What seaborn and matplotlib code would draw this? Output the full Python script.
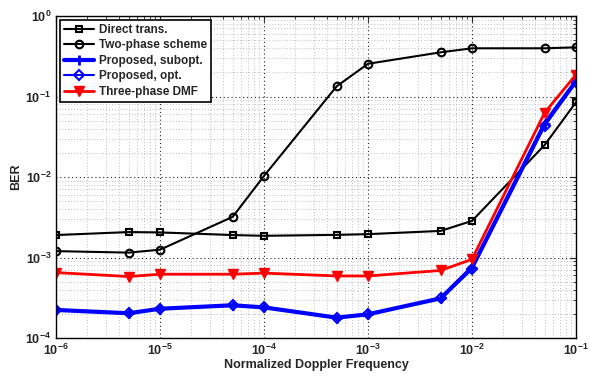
import matplotlib
matplotlib.use("Agg")
import matplotlib.pyplot as plt
import seaborn as sns
import numpy as np
import pandas as pd
from matplotlib.ticker import LogLocator, NullFormatter

sns.set_style("white")
plt.rcParams['font.family'] = ['Liberation Sans', 'DejaVu Sans']
plt.rcParams['font.weight'] = 'bold'

doppler = [1e-6, 5e-6, 1e-5, 5e-5, 1e-4, 5e-4, 1e-3, 5e-3, 1e-2, 5e-2, 1e-1]
direct = [1.9e-3, 2.07e-3, 2.05e-3, 1.9e-3, 1.86e-3, 1.91e-3, 1.95e-3, 2.14e-3, 2.85e-3, 0.025, 0.085]
two_phase = [1.2e-3, 1.15e-3, 1.25e-3, 3.2e-3, 0.0103, 0.134, 0.255, 0.354, 0.397, 0.397, 0.408]
prop_subopt = [2.23e-4, 2.03e-4, 2.31e-4, 2.55e-4, 2.4e-4, 1.79e-4, 1.97e-4, 3.11e-4, 7.5e-4, 0.046, 0.155]
prop_opt = [2.23e-4, 2.03e-4, 2.31e-4, 2.55e-4, 2.4e-4, 1.79e-4, 1.97e-4, 3.11e-4, 7.1e-4, 0.043, 0.150]
three_phase = [6.5e-4, 5.8e-4, 6.2e-4, 6.2e-4, 6.4e-4, 5.9e-4, 5.9e-4, 6.9e-4, 9.5e-4, 0.063, 0.187]

labels = ["Direct trans.", "Two-phase scheme", "Proposed, subopt.", "Proposed, opt.", "Three-phase DMF"]
series = [direct, two_phase, prop_subopt, prop_opt, three_phase]

styles = [
    dict(color='black', marker='s', lw=1.5, ms=4.5, mfc='none', mec='black', mew=1.5),
    dict(color='black', marker='o', lw=1.5, ms=5.5, mfc='none', mec='black', mew=1.5),
    dict(color='blue', marker='+', lw=3.0, ms=7, mfc='blue', mec='blue', mew=2),
    dict(color='blue', marker='D', lw=1.5, ms=5, mfc='none', mec='blue', mew=1.5),
    dict(color='red', marker='v', lw=2.0, ms=6.5, mfc='red', mec='red', mew=1),
]

fig = plt.figure(figsize=(5.9, 3.76), dpi=100)
ax = fig.add_axes([56/590, 1-338/376, (576-56)/590, (338-16)/376])

for lab, vals, st in zip(labels, series, styles):
    df = pd.DataFrame({"x": doppler, "y": vals})
    sns.lineplot(data=df, x="x", y="y", ax=ax, label=lab,
                 color=st['color'], marker=st['marker'], linewidth=st['lw'],
                 markersize=st['ms'], markerfacecolor=st['mfc'],
                 markeredgecolor=st['mec'], markeredgewidth=st['mew'])

ax.set_xscale('log')
ax.set_yscale('log')
ax.set_xlim(1e-6, 1e-1)
ax.set_ylim(1e-4, 1e0)

ax.xaxis.set_major_locator(LogLocator(base=10, numticks=10))
ax.yaxis.set_major_locator(LogLocator(base=10, numticks=10))
ax.xaxis.set_minor_locator(LogLocator(base=10, subs=np.arange(2, 10), numticks=100))
ax.yaxis.set_minor_locator(LogLocator(base=10, subs=np.arange(2, 10), numticks=100))
ax.xaxis.set_minor_formatter(NullFormatter())
ax.yaxis.set_minor_formatter(NullFormatter())

ax.grid(True, which='major', linestyle=(0, (1, 2.5)), color='#222222', linewidth=0.8)
ax.grid(True, which='minor', linestyle=(0, (1, 2.5)), color='#aaaaaa', linewidth=0.6)
ax.set_axisbelow(True)

ax.tick_params(which='both', direction='in', top=True, right=True, labelsize=9)
ax.tick_params(which='major', length=4, width=0.8)
ax.tick_params(which='minor', length=2, width=0.6)
for sp in ax.spines.values():
    sp.set_color('black')
    sp.set_linewidth(1.0)
for t in ax.get_xticklabels() + ax.get_yticklabels():
    t.set_fontweight('bold')

ax.set_xlabel("Normalized Doppler Frequency", fontsize=9, fontweight='bold', labelpad=1)
ax.set_ylabel("BER", fontsize=9, fontweight='bold', labelpad=2)

leg = ax.legend(loc='upper left', fontsize=8.5, frameon=True, fancybox=False,
                edgecolor='black', framealpha=1, handlelength=2.6, borderpad=0.35,
                labelspacing=0.3, handletextpad=0.4, borderaxespad=0.3, numpoints=1)
leg.get_frame().set_linewidth(1.2)
for t in leg.get_texts():
    t.set_fontweight('bold')

fig.savefig("out.png", dpi=100)
